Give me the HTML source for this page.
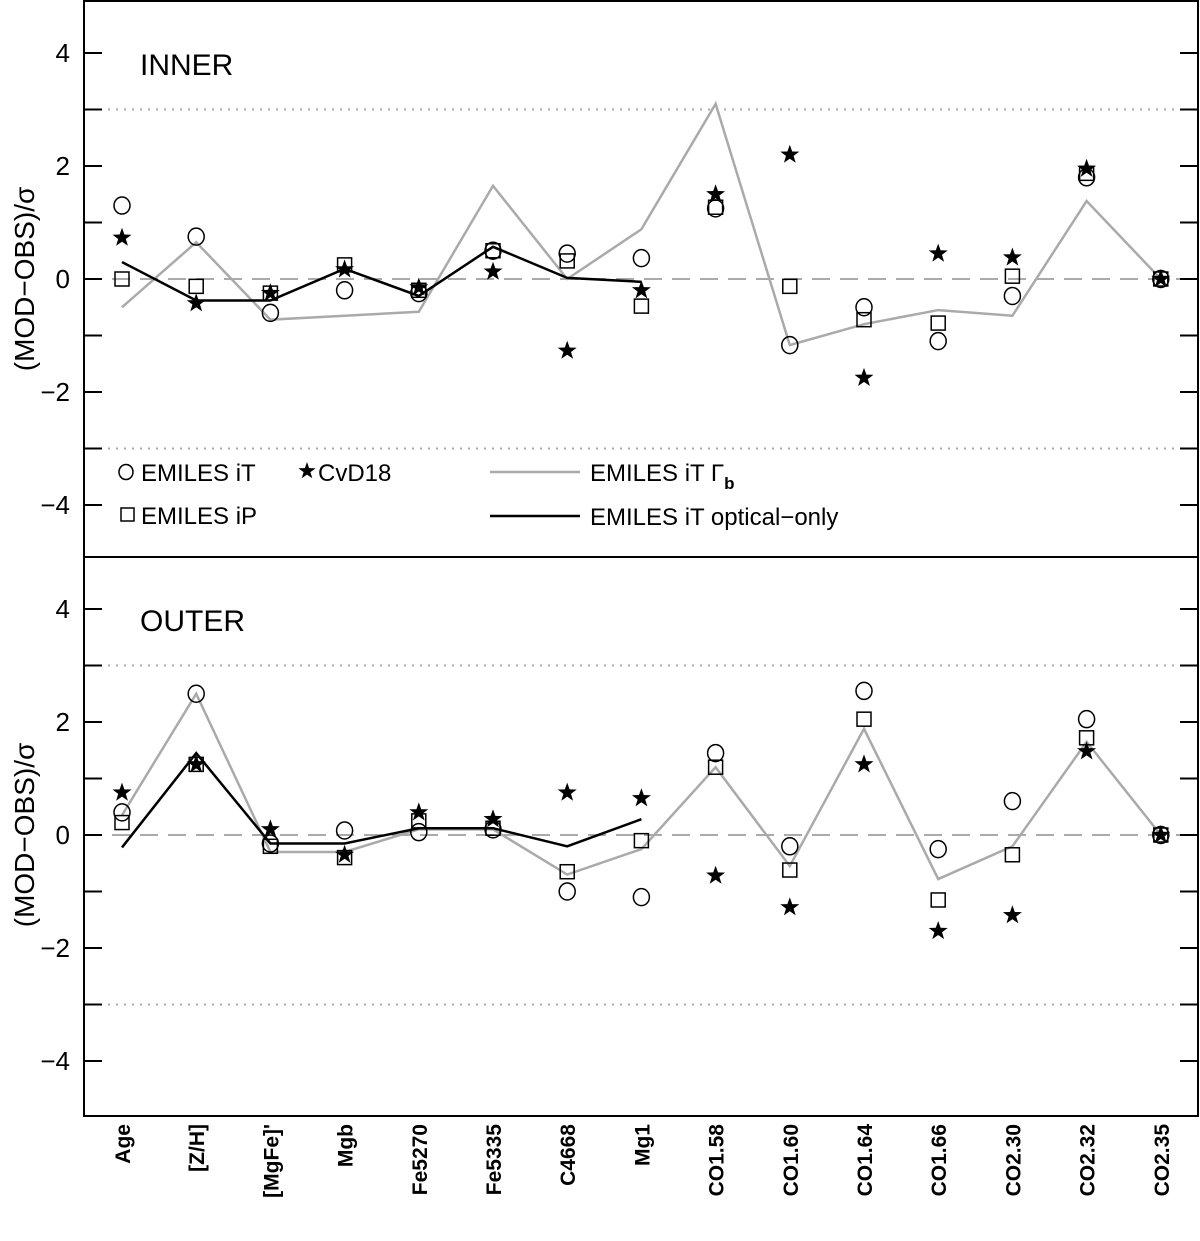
<!DOCTYPE html>
<html><head><meta charset="utf-8"><style>
body{margin:0;background:#fff}
svg{display:block;font-family:"Liberation Sans",sans-serif}
</style></head><body>
<svg id="chart" width="1200" height="1241" viewBox="0 0 1200 1241"></svg>
<script>
const categories=["Age","[Z/H]","[MgFe]'","Mgb","Fe5270","Fe5335","C4668","Mg1","CO1.58","CO1.60","CO1.64","CO1.66","CO2.30","CO2.32","CO2.35"];
const innerCircle=[1.3,0.75,-0.6,-0.2,-0.25,0.5,0.45,0.37,1.25,-1.17,-0.5,-1.1,-0.3,1.8,0];
const innerSquare=[0,-0.13,-0.25,0.25,-0.2,0.5,0.32,-0.48,1.27,-0.13,-0.72,-0.78,0.05,1.87,0];
const innerStar=[0.73,-0.43,-0.25,0.17,-0.15,0.13,-1.27,-0.2,1.5,2.2,-1.75,0.45,0.38,1.95,0];
const innerGamma=[-0.5,0.65,-0.72,-0.65,-0.58,1.65,0,0.88,3.1,-1.17,-0.8,-0.55,-0.65,1.38,0];
const innerOptical=[0.3,-0.38,-0.38,0.18,-0.3,0.57,0.02,-0.05];
const outerCircle=[0.4,2.5,-0.15,0.08,0.05,0.1,-1.0,-1.1,1.45,-0.2,2.55,-0.25,0.6,2.05,0];
const outerSquare=[0.22,1.25,-0.2,-0.4,0.25,0.12,-0.65,-0.1,1.2,-0.62,2.05,-1.15,-0.35,1.72,0];
const outerStar=[0.75,1.25,0.1,-0.35,0.4,0.28,0.75,0.65,-0.72,-1.28,1.25,-1.7,-1.42,1.48,0];
const outerGamma=[0.35,2.5,-0.3,-0.3,0.1,0.1,-0.7,-0.25,1.2,-0.55,1.88,-0.78,-0.2,1.65,0];
const outerOptical=[-0.22,1.45,-0.15,-0.15,0.12,0.12,-0.2,0.28];
const yTicks=[-4,-2,0,2,4];

const NS="http://www.w3.org/2000/svg";
const svg=document.getElementById('chart');
const L=84,R=1198,U=56.5;
function xs(i){return 122+i*74.2;}
function mk(tag,attrs,parent){const e=document.createElementNS(NS,tag);for(const k in attrs)e.setAttribute(k,attrs[k]);(parent||svg).appendChild(e);return e;}
function starPts(cx,cy,r){let p=[];for(let k=0;k<10;k++){const a=-Math.PI/2+k*Math.PI/5;const rr=k%2?r*0.4:r;p.push((cx+rr*Math.cos(a)).toFixed(1)+','+(cy+rr*Math.sin(a)).toFixed(1));}return p.join(' ');}

function panel(name,top,bottom,zeroY,label,circ,sq,st,gam,opt){
  const g=mk('g',{});
  
  
  const ys=v=>zeroY-v*U;
  for(const v of [-3,3]){const l=mk('line',{x1:L,x2:R,y1:ys(v),y2:ys(v),stroke:'#aaa','stroke-width':2,'stroke-dasharray':'2,6'},g);
    }
  const z=mk('line',{x1:L,x2:R,y1:ys(0),y2:ys(0),stroke:'#aaa','stroke-width':2,'stroke-dasharray':'18,10'},g);
  
  for(let v=-4;v<=4;v++){
    const t=mk('line',{x1:L,x2:L+18,y1:ys(v),y2:ys(v),stroke:'#000','stroke-width':2},g);
    
    const t2=mk('line',{x1:R-18,x2:R,y1:ys(v),y2:ys(v),stroke:'#000','stroke-width':2},g);
    
  }
  for(const v of yTicks){
    const tx=mk('text',{x:70,y:ys(v)+9,'text-anchor':'end','font-size':26},g);
    tx.textContent=v<0?'\u2212'+(-v):String(v);
    
  }
  const lab=mk('text',{x:140,y:ys(4)+22,'font-size':30},g);
  lab.textContent=label;
  
  const yt=mk('text',{x:34,y:zeroY,'text-anchor':'middle','font-size':28,transform:`rotate(-90 34 ${zeroY})`},g);
  yt.textContent='(MOD\u2212OBS)/\u03c3';
  
  const gp=mk('polyline',{points:gam.map((v,i)=>xs(i)+','+ys(v)).join(' '),fill:'none',stroke:'#aaa','stroke-width':2.5},g);
  
  const op=mk('polyline',{points:opt.map((v,i)=>xs(i)+','+ys(v)).join(' '),fill:'none',stroke:'#000','stroke-width':2.5},g);
  
  circ.forEach((v,i)=>{const c=mk('ellipse',{cx:xs(i),cy:ys(v),rx:8,ry:8.5,fill:'none',stroke:'#000','stroke-width':1.5},g);
    });
  sq.forEach((v,i)=>{const r=mk('rect',{x:xs(i)-7,y:ys(v)-7,width:14,height:14,fill:'none',stroke:'#000','stroke-width':1.5},g);
    });
  st.forEach((v,i)=>{const s=mk('polygon',{points:starPts(xs(i),ys(v),10),fill:'#000'},g);
    });
}
panel('inner',0,557,279,'INNER',innerCircle,innerSquare,innerStar,innerGamma,innerOptical);
panel('outer',557,1116,835,'OUTER',outerCircle,outerSquare,outerStar,outerGamma,outerOptical);

const f=mk('rect',{x:L,y:1,width:R-L,height:1115,fill:'none',stroke:'#000','stroke-width':2});

const mid=mk('line',{x1:L,x2:R,y1:557,y2:557,stroke:'#000','stroke-width':2});


categories.forEach((c,i)=>{
  const x=xs(i)+8;
  const t=mk('text',{x:x,y:1124,'text-anchor':'end','font-size':21,'font-weight':'bold',transform:`rotate(-90 ${x} 1124)`});
  t.textContent=c;
  
});

const lg=mk('g',{});

let e;
e=mk('ellipse',{cx:126,cy:472,rx:7,ry:7.5,fill:'none',stroke:'#000','stroke-width':1.5},lg);

e=mk('text',{x:141,y:481,'font-size':24},lg);e.textContent='EMILES iT';

e=mk('polygon',{points:starPts(307,471,9),fill:'#000'},lg);

e=mk('text',{x:318,y:481,'font-size':24},lg);e.textContent='CvD18';

e=mk('rect',{x:121,y:508,width:13,height:13,fill:'none',stroke:'#000','stroke-width':1.5},lg);

e=mk('text',{x:141,y:524,'font-size':24},lg);e.textContent='EMILES iP';

e=mk('line',{x1:490,x2:580,y1:472,y2:472,stroke:'#aaa','stroke-width':2.5},lg);

e=mk('text',{x:590,y:481,'font-size':24},lg);e.innerHTML='EMILES iT \u0393<tspan font-size="17" dy="8" font-weight="bold">b</tspan>';

e=mk('line',{x1:490,x2:580,y1:516,y2:516,stroke:'#000','stroke-width':2.5},lg);

e=mk('text',{x:590,y:525,'font-size':24},lg);e.textContent='EMILES iT optical\u2212only';

</script>
</body></html>
